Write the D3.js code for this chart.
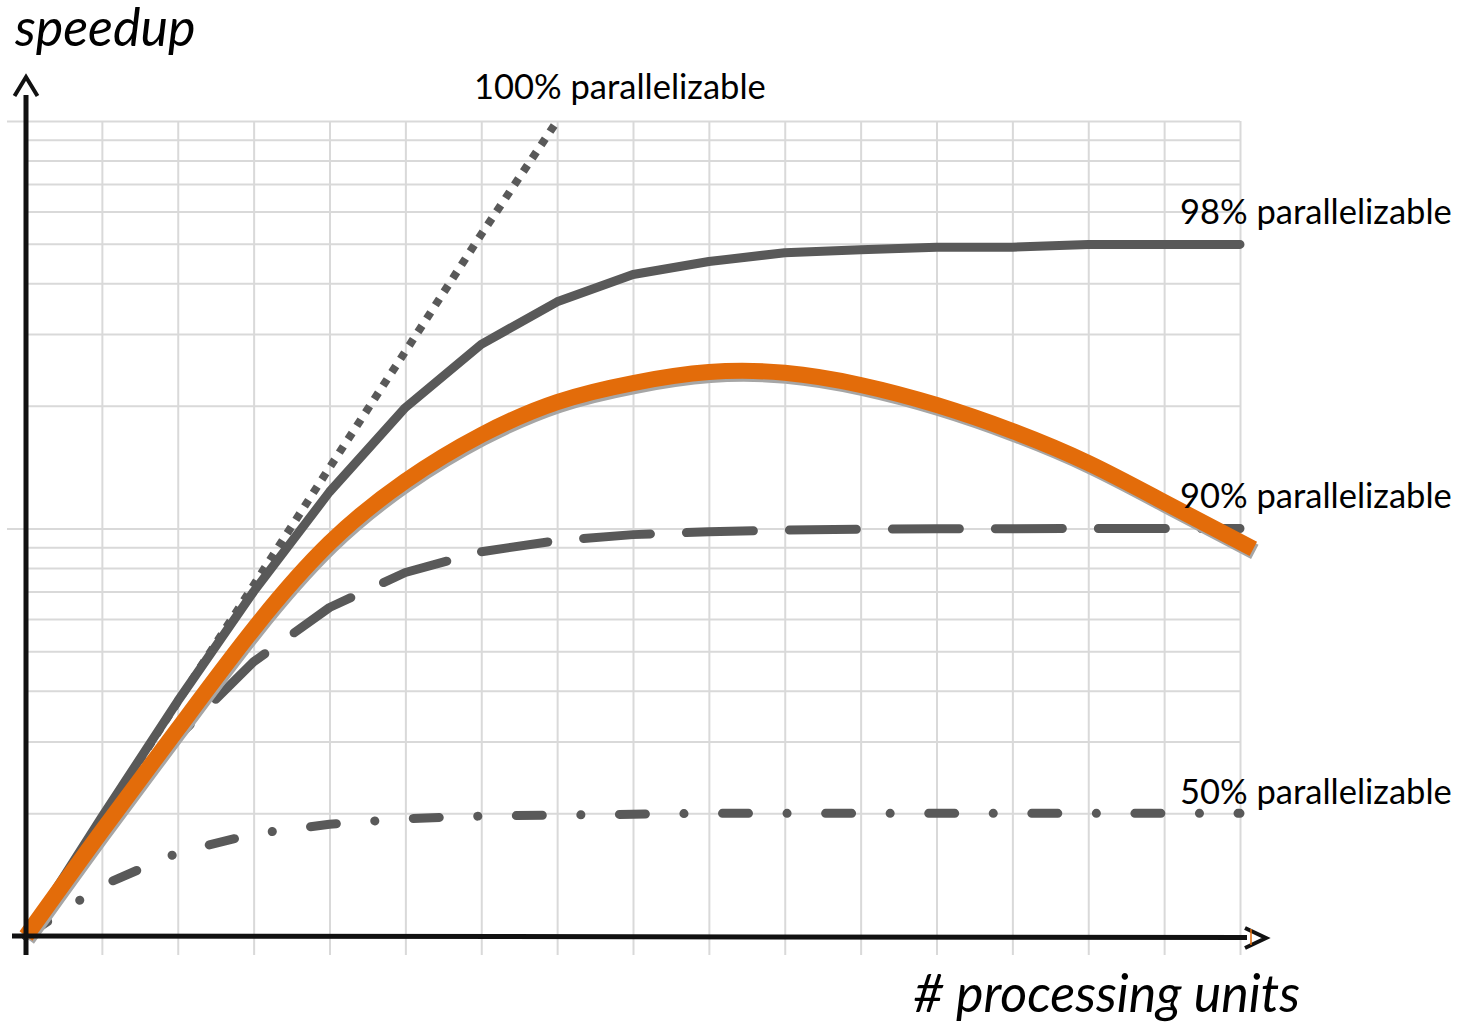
<!DOCTYPE html>
<html><head><meta charset="utf-8">
<script src="https://cdn.jsdelivr.net/npm/d3@7"></script>
<style>
body{margin:0;background:#fff}
svg{display:block}
text{font-family:Lato,"Open Sans",sans-serif;fill:#000}
</style>
</head><body>
<svg id="chart" width="1470" height="1023"></svg>
<script>
// ---------- data ----------
const units = [1,2,4,8,16,32,64,128,256,512,1024,2048,4096,8192,16384,32768,65536];
const idealUnits = [1,2,4,8,16,32,64,128];
const ideal100 = [1,1.94,3.75,7.26,14.1,27.2,52.7,100];
const par98 = [1,1.96,3.77,7.0,12.3,19.8,28.3,36.0,42.0,45.2,47.5,48.3,49.0,49.0,49.8,49.8,49.8];
const par90 = [1,1.82,3.08,4.71,6.4,7.8,8.77,9.34,9.66,9.82,9.91,9.96,9.98,9.99,10,10,10];
const par50 = [1,1.33,1.6,1.78,1.88,1.94,1.97,1.98,1.99,2,2,2,2,2,2,2,2];
const realUnits = [1,2,4,8,16,32,64,128,256,512,1024,2048,4096,8192,16384,32768,74000];
const realSpeedup = [1,1.81,3.22,5.67,9.21,13.08,16.96,20.43,22.75,24.2,24.1,22.5,20.1,17.35,14.48,11.61,8.91];
const seriesLabels = ["100% parallelizable","98% parallelizable","90% parallelizable","50% parallelizable"];
const yGridValues = [2,3,4,5,6,7,8,9,10,20,30,40,50,60,70,80,90,100];
const yDecades = [10,100];
const xGridValues = [2,4,8,16,32,64,128,256,512,1024,2048,4096,8192,16384,32768,65536];
const yTitle = "speedup";
const xTitle = "# processing units";

// ---------- scales ----------
const svg = d3.select("#chart");
const x = d3.scaleLog().base(2).domain([1,65536]).range([26,1240]);
const y = d3.scaleLog().base(10).domain([1,100]).range([936,121]);

const GRID = "#d9d9d9", GRAY = "#595959", ORANGE = "#e36c0a";

// ---------- grid ----------
const gx = svg.append("g").attr("transform","translate(0,121)")
  .call(d3.axisBottom(x).tickValues(xGridValues).tickSize(834).tickFormat(""));
const gy = svg.append("g").attr("transform","translate(26,0)")
  .call(d3.axisRight(y).tickValues(yGridValues).tickSize(1214).tickFormat(""));
const gd = svg.append("g").attr("transform","translate(26,0)")
  .call(d3.axisLeft(y).tickValues(yDecades).tickSize(19).tickFormat(""));
[gx,gy,gd].forEach(g=>{
  g.select(".domain").remove();
  g.selectAll(".tick line").attr("stroke",GRID).attr("stroke-width",2);
});

// ---------- series ----------
const line = d3.line().x(d=>x(d[0])).y(d=>y(d[1]));
const smooth = d3.line().x(d=>x(d[0])).y(d=>y(d[1])).curve(d3.curveNatural);
const zip = (xs,ys)=>xs.map((v,i)=>[v,ys[i]]);

svg.append("path").datum(zip(units,par50)).attr("d",line)
  .attr("fill","none").attr("stroke",GRAY).attr("stroke-width",9)
  .attr("stroke-linecap","round").attr("stroke-linejoin","round")
  .attr("stroke-dasharray","26,38.5,0.1,38.5");

svg.append("path").datum(zip(units,par90)).attr("d",line)
  .attr("fill","none").attr("stroke",GRAY).attr("stroke-width",9)
  .attr("stroke-linecap","round").attr("stroke-linejoin","round")
  .attr("stroke-dasharray","67,36").attr("stroke-dashoffset",5);

svg.append("path").datum(zip(idealUnits,ideal100)).attr("d",line)
  .attr("fill","none").attr("stroke",GRAY).attr("stroke-width",8)
  .attr("stroke-dasharray","7.5,8.5");

svg.append("path").datum(zip(units,par98)).attr("d",line)
  .attr("fill","none").attr("stroke",GRAY).attr("stroke-width",9)
  .attr("stroke-linecap","round").attr("stroke-linejoin","round");

const realData = zip(realUnits,realSpeedup);
svg.append("path").datum(realData).attr("d",smooth)
  .attr("transform","translate(1.5,3)")
  .attr("fill","none").attr("stroke","#a6a6a6").attr("stroke-width",16);
svg.append("path").datum(realData).attr("d",smooth)
  .attr("fill","none").attr("stroke",ORANGE).attr("stroke-width",16);

// ---------- axes ----------
const AX = "#111";
svg.append("line").attr("x1",x(1)).attr("x2",x(1)).attr("y1",955).attr("y2",95)
  .attr("stroke",AX).attr("stroke-width",5);
svg.append("polyline").attr("points",`${x(1)-11.5},96 ${x(1)},77 ${x(1)+11.5},96`)
  .attr("fill","none").attr("stroke",AX).attr("stroke-width",4);
svg.append("line").attr("x1",12).attr("x2",1247).attr("y1",y(1)).attr("y2",y(1)+1.5)
  .attr("stroke",AX).attr("stroke-width",5);
svg.append("polyline").attr("points",`1245,928 1266,938 1245,948`)
  .attr("fill","none").attr("stroke",AX).attr("stroke-width",4);
svg.append("line").attr("x1",1251).attr("x2",1251).attr("y1",929).attr("y2",945)
  .attr("stroke",ORANGE).attr("stroke-width",1.5);

// ---------- labels ----------
svg.append("text").attr("x",15).attr("y",46).attr("font-size",52)
  .attr("font-style","italic").text(yTitle);
svg.append("text").attr("x",1300).attr("y",1012).attr("font-size",52)
  .attr("font-style","italic").attr("text-anchor","end").text(xTitle);

const labelPos = [[474,99],[1180,224],[1180,508],[1180,804]];
seriesLabels.forEach((t,i)=>{
  svg.append("text").attr("x",labelPos[i][0]).attr("y",labelPos[i][1])
    .attr("font-size",34.5).text(t);
});
</script>
</body></html>
